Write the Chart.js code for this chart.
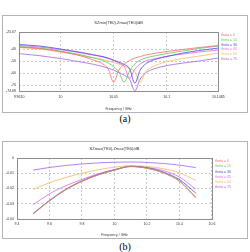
<!DOCTYPE html>
<html>
<head>
<meta charset="utf-8">
<script src="https://cdn.jsdelivr.net/npm/chart.js@4.4.1/dist/chart.umd.min.js"></script>
<style>
body { margin: 0; background: #fff; width: 250px; height: 252px; position: relative; overflow: hidden; }
.box { position: absolute; left: 2px; width: 244px; height: 96px; border: 1px solid #b4b4b4; background: #fff; }
.box canvas { display: block; }
.cap { position: absolute; left: 0; width: 250px; text-align: center; font: 10px "Liberation Serif", serif; color: #000; }
</style>
</head>
<body>
<div class="box" style="top:15px"><canvas id="chartA" width="244" height="96"></canvas></div>
<div class="cap" style="top:113px">(a)</div>
<div class="box" style="top:141px"><canvas id="chartB" width="244" height="96"></canvas></div>
<div class="cap" style="top:241px">(b)</div>
<script>
var seriesNames = ['theta = 0', 'theta = 15', 'theta = 30', 'theta = 45', 'theta = 60', 'theta = 75'];
var seriesColors = ['#f26b6b', '#5cc85c', '#4848e4', '#e466e4', '#f6b764', '#a063ea'];

// (a) transmission, dB
var freqA = [9.961, 9.98, 10.0, 10.02, 10.03, 10.04, 10.045, 10.05, 10.055, 10.06, 10.065, 10.07, 10.075, 10.08, 10.085, 10.09, 10.1, 10.115, 10.13, 10.1485];
var theta0A = [-38.2, -39.4, -41.9, -45.7, -48.6, -52.3, -56.5, -67.3, -57.3, -52.3, -49.4, -47.3, -46.1, -44.8, -44.0, -43.2, -41.9, -40.2, -38.6, -36.9];
var theta15A = [-37.8, -39.0, -41.5, -44.8, -46.9, -49.4, -51.5, -54.4, -59.0, -67.3, -58.2, -52.3, -49.0, -47.3, -46.1, -45.3, -43.6, -41.5, -39.4, -37.3];
var theta30A = [-36.1, -37.3, -39.8, -42.7, -44.4, -46.1, -47.3, -49.0, -50.7, -52.7, -56.1, -68.2, -57.3, -52.3, -49.8, -48.2, -46.1, -43.2, -41.1, -39.0];
var theta45A = [-36.9, -38.2, -40.3, -43.2, -44.8, -46.5, -47.7, -49.4, -51.5, -54.4, -64.0, -56.5, -52.3, -49.8, -48.6, -47.7, -45.7, -44.0, -42.3, -40.7];
var theta60A = [-38.6, -39.8, -42.3, -45.3, -46.9, -48.6, -49.8, -51.1, -52.3, -54.0, -56.1, -58.6, -67.3, -59.0, -55.3, -53.2, -50.3, -47.7, -45.7, -43.2];
var theta75A = [-43.6, -45.3, -47.7, -50.7, -52.3, -54.4, -55.7, -57.3, -59.4, -61.5, -64.8, -74.5, -64.8, -59.8, -57.3, -55.7, -53.6, -51.5, -49.8, -47.3];
var xTicksA = [9.961, 10, 10.05, 10.1, 10.1485];
var xLabelsA = ['9.9610', '10', '10.05', '10.1', '10.1485'];
var yTicksA = [-25.67, -40, -50, -60, -70, -74.68];
var yLabelsA = ['-25.67', '-40', '-50', '-60', '-70', '-74.68'];

// (b) reflection, dB
var freqB = [9.5, 9.6, 9.7, 9.8, 9.9, 10.0, 10.1, 10.2, 10.3, 10.4, 10.5];
var theta0B = [-0.0366, -0.0281, -0.0208, -0.0153, -0.0111, -0.0080, -0.0056, -0.0068, -0.0098, -0.0153, -0.0262];
var theta15B = [-0.0365, -0.0280, -0.0207, -0.0152, -0.0110, -0.0079, -0.0055, -0.0067, -0.0096, -0.0150, -0.0255];
var theta30B = [-0.0363, -0.0278, -0.0205, -0.0150, -0.0108, -0.0078, -0.0054, -0.0064, -0.0092, -0.0142, -0.0230];
var theta45B = [-0.0306, -0.0235, -0.0182, -0.0141, -0.0103, -0.0075, -0.0056, -0.0062, -0.0082, -0.0125, -0.0205];
var theta60B = [-0.0206, -0.0162, -0.0128, -0.0100, -0.0077, -0.0060, -0.0050, -0.0055, -0.0070, -0.0097, -0.0147];
var theta75B = [-0.0079, -0.0062, -0.0049, -0.0039, -0.0032, -0.0028, -0.0026, -0.0029, -0.0036, -0.0047, -0.0063];
var xTicksB = [9.4, 9.6, 9.8, 10, 10.2, 10.4, 10.6];
var xLabelsB = ['9.4', '9.6', '9.8', '10', '10.2', '10.4', '10.6'];
var yTicksB = [0, -0.01, -0.02, -0.03, -0.04];
var yLabelsB = ['0', '-0.01', '-0.02', '-0.03', '-0.04'];

var tickFont = { family: 'Liberation Sans', size: 3.5 };

// grey frame round the plot area
var framePlugin = {
	id: 'frame',
	afterDatasetsDraw: function(chart) {
		var a = chart.chartArea;
		var ctx = chart.ctx;
		ctx.save();
		ctx.strokeStyle = '#8c8c8c';
		ctx.lineWidth = 1;
		ctx.strokeRect(Math.round(a.left) + 0.5, Math.round(a.top) + 0.5, Math.round(a.right - a.left), Math.round(a.bottom - a.top));
		ctx.restore();
	}
};

function makeSets(freq, series) {
	return series.map(function(vals, i) {
		return {
			label: seriesNames[i],
			borderColor: seriesColors[i],
			backgroundColor: seriesColors[i],
			borderWidth: 0.8,
			pointRadius: 0,
			cubicInterpolationMode: 'monotone',
			data: vals.map(function(v, k) { return { x: freq[k], y: v }; })
		};
	});
}

function makeChart(id, cfg) {
	return new Chart(document.getElementById(id).getContext('2d'), {
		type: 'line',
		data: { datasets: makeSets(cfg.freq, cfg.series) },
		options: {
			responsive: false,
			animation: false,
			devicePixelRatio: 1,
			layout: { padding: { left: 0, right: cfg.padRight, top: 0, bottom: 0 } },
			plugins: {
				tooltip: { enabled: false },
				title: {
					display: true,
					text: cfg.title,
					fullSize: false,
					color: '#333',
					font: { family: 'Liberation Sans', size: 4, weight: 'normal', lineHeight: 1.2 },
					padding: { top: 4.6, bottom: 6.6 }
				},
				legend: {
					position: 'right',
					align: 'start',
					fullSize: false,
					labels: {
						boxWidth: 0,
						boxHeight: 0,
						padding: cfg.legendPad,
						font: tickFont,
						generateLabels: function(chart) {
							return chart.data.datasets.map(function(ds, i) {
								return { text: ds.label, fontColor: ds.borderColor, fillStyle: 'rgba(0,0,0,0)', strokeStyle: 'rgba(0,0,0,0)', lineWidth: 0, datasetIndex: i, hidden: false };
							});
						}
					}
				}
			},
			scales: {
				x: {
					type: 'linear',
					min: cfg.xTicks[0],
					max: cfg.xTicks[cfg.xTicks.length - 1],
					afterBuildTicks: function(scale) { scale.ticks = cfg.xTicks.map(function(v) { return { value: v }; }); },
					afterFit: function(scale) { scale.height = cfg.xHeight; },
					grid: { color: '#bdbdbd', lineWidth: 0.8, drawTicks: false },
					border: { display: false, dash: [2, 2] },
					ticks: {
						autoSkip: false, maxRotation: 0, padding: cfg.xTickPad, color: '#333', font: tickFont,
						callback: function(v, i) { return cfg.xLabels[i]; }
					},
					title: { display: true, text: 'Frequency / GHz', color: '#333', font: tickFont, padding: { top: 0, bottom: 0.9 } }
				},
				y: {
					min: cfg.yTicks[cfg.yTicks.length - 1],
					max: cfg.yTicks[0],
					afterBuildTicks: function(scale) { scale.ticks = cfg.yTicks.map(function(v) { return { value: v }; }); },
					afterFit: function(scale) { scale.width = cfg.yWidth; },
					grid: { color: '#bdbdbd', lineWidth: 0.8, drawTicks: false },
					border: { display: false, dash: [2, 2] },
					ticks: {
						autoSkip: false, padding: 3, color: '#333', font: tickFont,
						callback: function(v, i) { return cfg.yLabels[i]; }
					}
				}
			}
		},
		plugins: [framePlugin]
	});
}

makeChart('chartA', {
	title: 'SZmin(TE0),Zmax(TE0)/dB',
	freq: freqA,
	series: [theta0A, theta15A, theta30A, theta45A, theta60A, theta75A],
	xTicks: xTicksA, xLabels: xLabelsA, yTicks: yTicksA, yLabels: yLabelsA,
	xHeight: 21, xTickPad: 3.9, yWidth: 16, padRight: 0, legendPad: 1.3
});

makeChart('chartB', {
	title: 'SZmax(TE0),Zmax(TE0)/dB',
	freq: freqB,
	series: [theta0B, theta15B, theta30B, theta45B, theta60B, theta75B],
	xTicks: xTicksB, xLabels: xLabelsB, yTicks: yTicksB, yLabels: yLabelsB,
	xHeight: 19, xTickPad: 2.9, yWidth: 14, padRight: 6, legendPad: 1.6
});
</script>
</body>
</html>
